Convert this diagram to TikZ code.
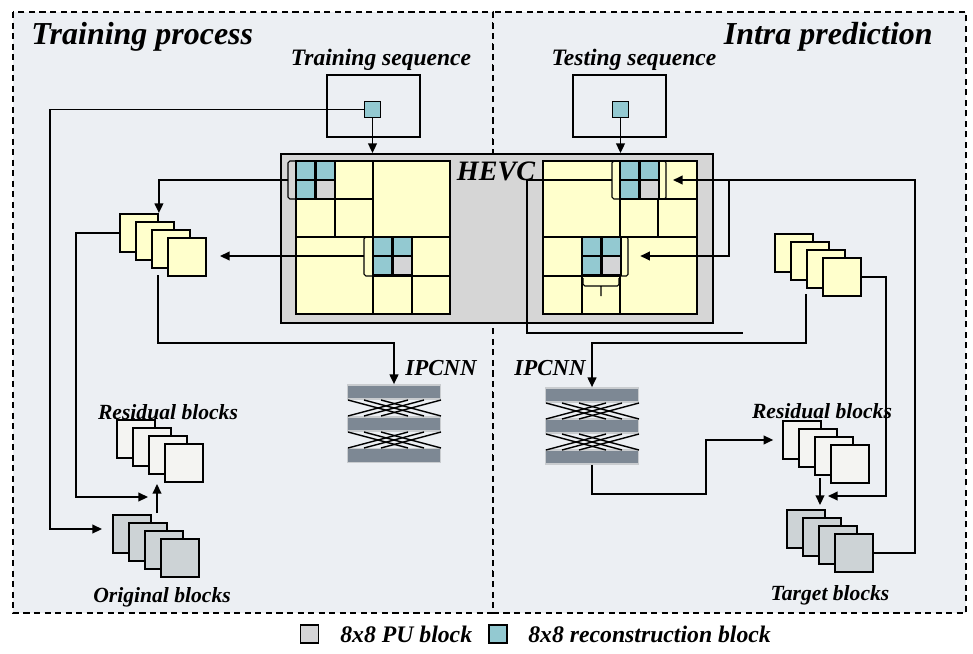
\documentclass[tikz,border=0pt]{standalone}
\usepackage{fontspec}
\setmainfont{Liberation Serif}
\usetikzlibrary{arrows.meta}
\definecolor{panel}{HTML}{ECEFF3}
\definecolor{hevcg}{HTML}{D6D6D6}
\definecolor{ylw}{HTML}{FFFFCC}
\definecolor{teal8}{HTML}{93C9D1}
\definecolor{pug}{HTML}{D4D4D6}
\definecolor{resw}{HTML}{F4F4F2}
\definecolor{orgg}{HTML}{CDD3D6}
\definecolor{barc}{HTML}{7D8894}
\definecolor{bard}{HTML}{C9CCCF}
\tikzset{
    blk/.style={draw, line width=1.1pt, minimum size=0.76cm, inner sep=0pt, anchor=north west},
    frm/.style={fill=ylw, line width=1.1pt},
    grd/.style={line width=1.1pt},
    pub/.style={line width=1.6pt},
    brk/.style={line width=0.6pt, rounded corners=1pt},
    con/.style={line width=0.9pt},
    arr/.style={con, -{Triangle[length=5.5pt,width=5pt]}},
    bar/.style={fill=barc, draw=bard, line width=1pt, minimum width=1.86cm, minimum height=0.28cm, inner sep=0pt},
    ttl/.style={font=\fontsize{18.2}{21}\selectfont\bfseries\itshape, inner sep=0pt},
    seqt/.style={font=\fontsize{13.4}{15}\selectfont\bfseries\itshape, inner sep=0pt},
    lbl/.style={font=\fontsize{12.3}{14}\selectfont\bfseries\itshape, inner sep=0pt},
    lgd/.style={font=\fontsize{13.5}{15}\selectfont\bfseries\itshape, inner sep=0pt},
}
\begin{document}
\begin{tikzpicture}[x=0.02cm, y=-0.02cm]
    \useasboundingbox (0,0) rectangle (973,653);
    \fill[white] (0,0) rectangle (973,653);
    \draw[dash pattern=on 3.5pt off 2.5pt, fill=panel, line width=0.8pt] (13,12) rectangle (493,613);
    \draw[dash pattern=on 3.5pt off 2.5pt, fill=panel, line width=0.8pt] (493,12) rectangle (966,613);
    \node[ttl, anchor=west] (ttrain) at (31,37) {Training process};
    \node[ttl, anchor=east] (tintra) at (933,37) {Intra prediction};

    \node[seqt] (trlbl) at (381,60) {Training sequence};
    \node[seqt] (telbl) at (634,60) {Testing sequence};
    \node[draw, line width=1pt, minimum width=1.86cm, minimum height=1.24cm] (trbox) at (373.5,106) {};
    \node[draw, line width=1pt, minimum width=1.86cm, minimum height=1.24cm] (tebox) at (619.5,106) {};
    \node[draw, fill=teal8, line width=0.8pt, minimum size=0.32cm, inner sep=0pt] (trsq) at (372.5,109.5) {};
    \node[draw, fill=teal8, line width=0.8pt, minimum size=0.32cm, inner sep=0pt] (tesq) at (620.5,109.5) {};

    \node[draw, fill=hevcg, line width=1.1pt, minimum width=8.64cm, minimum height=3.38cm] (hevc) at (497,238.5) {};
    \node[lbl, font=\fontsize{16}{18}\selectfont\bfseries\itshape] (hevclbl) at (496,171) {HEVC};
    \foreach \fx in {296,543}{
        \draw[frm] (\fx,161) rectangle +(154,153);
        \draw[grd] (\fx+77,161) -- +(0,153) (\fx,237) -- +(154,0);
    }
    \draw[grd] (335,161) -- (335,237) (296,199) -- (373,199);
    \draw[grd] (412,237) -- (412,314) (373,276) -- (450,276);
    \draw[grd] (658,161) -- (658,237) (620,199) -- (697,199);
    \draw[grd] (582,237) -- (582,314) (543,276) -- (620,276);
    \foreach \bx/\by in {296/161, 373/237, 620/161, 582/237}{
        \fill[teal8] (\bx,\by) rectangle +(39,38);
        \fill[pug] (\bx+19.5,\by+19) rectangle +(19.5,19);
        \draw[pub] (\bx,\by) rectangle +(39,38);
        \draw[pub] (\bx+19.5,\by) -- +(0,38);
        \draw[pub] (\bx,\by+19) -- +(39,0);
    }
    \draw[brk] (296,161) -- (288,161) -- (288,199) -- (296,199);
    \draw[brk] (373,237) -- (364,237) -- (364,276) -- (373,276);
    \draw[brk] (620,161) -- (612,161) -- (612,199) -- (620,199);
    \draw[brk] (659,161) -- (666,161) -- (666,199) -- (659,199);
    \draw[brk] (621,237) -- (628,237) -- (628,276) -- (621,276);
    \draw[brk] (583,278) -- (583,286) -- (619,286) -- (619,278) (601,286) -- (601,296);
    \coordinate (bl1) at (288,180);
    \coordinate (bl2) at (364,256);
    \coordinate (br1) at (612,180);
    \coordinate (br2) at (666,180);
    \coordinate (br3) at (628,256);

    \foreach \i in {1,...,4}{
        \node[blk, fill=ylw] (ly\i) at (119+16*\i-16,213+8*\i-8) {};
        \node[blk, fill=resw] (lr\i) at (116+16*\i-16,419+8*\i-8) {};
        \node[blk, fill=orgg] (lo\i) at (112+16*\i-16,514+8*\i-8) {};
        \node[blk, fill=ylw] (ry\i) at (774+16*\i-16,233+8*\i-8) {};
        \node[blk, fill=resw] (rr\i) at (782+16*\i-16,420+8*\i-8) {};
        \node[blk, fill=orgg] (rt\i) at (786+16*\i-16,509+8*\i-8) {};
    }
    \node[lbl] (lrlbl) at (168,412) {Residual blocks};
    \node[lbl] (lolbl) at (162,597) {Original blocks};
    \node[lbl] (rrlbl) at (822,411) {Residual blocks};
    \node[lbl] (rtlbl) at (830,595) {Target blocks};

    \foreach \n/\y in {1/392, 2/424, 3/455.5}
        \node[bar] (ipL\n) at (394,\y) {};
    \foreach \n/\y in {1/395, 2/426, 3/457}
        \node[bar] (ipR\n) at (592,\y) {};
    \foreach \cx/\cy in {348/399, 348/431, 546/402, 546/433}
        \foreach \a in {0,16,33}{
            \draw[line width=0.8pt] (\cx+\a,\cy+1) -- (\cx+\a+60,\cy+17);
            \draw[line width=0.8pt] (\cx+\a,\cy+17) -- (\cx+\a+60,\cy+1);
        }
    \node[lbl, font=\fontsize{13}{15}\selectfont\bfseries\itshape] (ipLlbl) at (441,368) {IPCNN};
    \node[lbl, font=\fontsize{13}{15}\selectfont\bfseries\itshape] (ipRlbl) at (550,368) {IPCNN};

    \coordinate (lin1) at (102,529);
    \coordinate (lin2) at (148,497);
    \coordinate (lin3) at (220,256);
    \coordinate (lout) at (158,275);
    \coordinate (lup1) at (157,513);
    \coordinate (lup2) at (157,484);
    \coordinate (rend) at (743,333);
    \coordinate (rout) at (806,294);
    \coordinate (rin1) at (828,496);
    \coordinate (rdn1) at (820,478);
    \coordinate (rdn2) at (820,505);
    \coordinate (rjn) at (729,180);

    \draw[arr] (trsq.south) -- (trsq.south |- hevc.north);
    \draw[arr] (tesq.south) -- (tesq.south |- hevc.north);
    \draw[arr] (trsq.west) -| (50,529) -- (lin1);
    \draw[arr] (ly1.west) -| (76,497) -- (lin2);
    \draw[arr] (lup1) -- (lup2);
    \draw[arr] (bl1) -| (ly1.north east);
    \draw[arr] (bl2) -- (lin3);
    \draw[arr] (lout) |- (394,343) -- (ipL1.north);
    \draw[con] (br1) -| (527,333) -- (rend);
    \draw[arr] (rout) |- (592,343) -- (ipR1.north);
    \draw[arr, shorten >=5pt] (ipR3.south) |- (706,494) |- (rr1.west);
    \draw[arr] (ry4.east) -| (886,496) -- (rin1);
    \draw[arr] (rdn1) -- (rdn2);
    \draw[arr, shorten >=4pt] (rt4.east) -| (915,180) -- (br2);
    \draw[arr, shorten >=7pt] (rjn) |- (br3);

    \node[draw, fill=pug, line width=1pt, minimum size=0.36cm, inner sep=0pt] (legpu) at (309.5,634) {};
    \node[lgd, anchor=west] (legputxt) at (340,634) {8x8 PU block};
    \node[draw, fill=teal8, line width=1pt, minimum size=0.36cm, inner sep=0pt] (legrc) at (498,634) {};
    \node[lgd, anchor=west] (legrctxt) at (528,634) {8x8 reconstruction block};
\end{tikzpicture}
\end{document}
